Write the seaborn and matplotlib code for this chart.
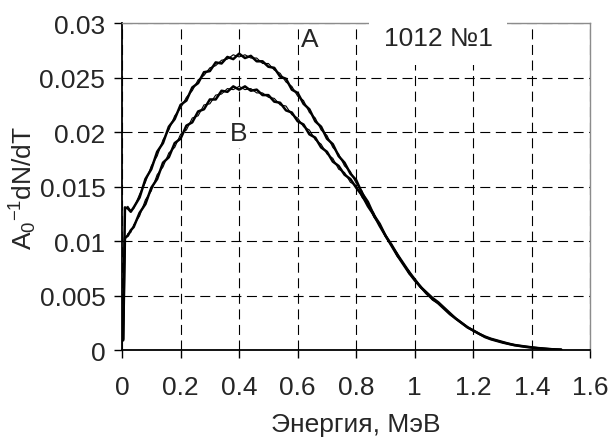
import numpy as np
import pandas as pd
import matplotlib
matplotlib.use('Agg')
import matplotlib.pyplot as plt
import seaborn as sns

# energy grid, MeV
energy = [
    0.004, 0.01, 0.02, 0.03, 0.04, 0.06, 0.08, 0.10, 0.12, 0.14,
    0.16, 0.18, 0.20, 0.22, 0.24, 0.26, 0.28, 0.30, 0.32, 0.34,
    0.36, 0.38, 0.40, 0.42, 0.44, 0.46, 0.48, 0.50, 0.52, 0.54,
    0.56, 0.58, 0.60, 0.62, 0.64, 0.66, 0.68, 0.70, 0.72, 0.74,
    0.76, 0.78, 0.80, 0.82, 0.84, 0.86, 0.88, 0.90, 0.92, 0.94,
    0.96, 0.98, 1.00, 1.02, 1.04, 1.06, 1.08, 1.10, 1.12, 1.14,
    1.16, 1.18, 1.20, 1.22, 1.24, 1.26, 1.28, 1.30, 1.32, 1.34,
    1.36, 1.38, 1.40, 1.42, 1.44, 1.46, 1.48, 1.50,
]

# spectra, units of 1e-3 (A: thick + thin run, B: thick + thin run)
a_thick = [
    1.0, 13.1, 13.0, 12.7, 13.1, 14.0, 15.7, 16.6, 18.2, 19.0,
    20.5, 21.2, 22.5, 22.9, 24.1, 24.5, 25.5, 25.6, 26.4, 26.3,
    26.9, 26.7, 27.2, 26.8, 27.0, 26.5, 26.5, 26.0, 25.9, 25.1,
    24.9, 23.9, 23.6, 22.6, 22.1, 21.0, 20.5, 19.4, 18.9, 17.8,
    17.2, 16.2, 15.6, 14.4, 13.6, 12.4, 11.6, 10.5, 9.7, 8.8,
    8.0, 7.2, 6.5, 5.8, 5.3, 4.8, 4.4, 3.9, 3.4, 2.9,
    2.5, 2.1, 1.8, 1.5, 1.25, 1.05, 0.9, 0.75, 0.6, 0.48,
    0.4, 0.33, 0.26, 0.2, 0.15, 0.1, 0.07, 0.05,
]
a_thin = [
    1.0, 12.9, 13.2, 12.8, 13.0, 14.3, 15.4, 16.9, 17.8, 19.3,
    20.2, 21.5, 22.2, 23.2, 23.8, 24.8, 25.2, 25.9, 26.1, 26.6,
    26.7, 27.1, 26.9, 27.1, 26.8, 26.8, 26.3, 26.3, 25.7, 25.4,
    24.6, 24.2, 23.3, 22.9, 21.8, 21.3, 20.2, 19.7, 18.6, 18.0,
    16.9, 16.4, 15.3, 14.6, 13.4, 12.6, 11.4, 10.6, 9.6, 8.9,
    7.9, 7.3, 6.4, 5.9, 5.2, 4.8, 4.3, 3.9, 3.4, 2.9,
    2.5, 2.1, 1.8, 1.5, 1.25, 1.05, 0.9, 0.75, 0.6, 0.48,
    0.4, 0.33, 0.26, 0.2, 0.15, 0.1, 0.07, 0.05,
]
b_thick = [
    0.9, 10.3, 10.5, 11.0, 11.3, 12.6, 13.4, 14.9, 15.7, 17.2,
    17.7, 19.0, 19.4, 20.6, 20.9, 21.9, 22.1, 23.0, 23.0, 23.8,
    23.7, 24.2, 23.9, 24.2, 23.8, 23.9, 23.4, 23.4, 22.8, 22.7,
    22.0, 21.8, 21.0, 20.7, 19.8, 19.5, 18.6, 18.2, 17.3, 16.9,
    16.1, 15.7, 14.9, 14.2, 13.2, 12.4, 11.4, 10.5, 9.6, 8.7,
    7.9, 7.1, 6.4, 5.8, 5.2, 4.7, 4.3, 3.8, 3.3, 2.9,
    2.5, 2.1, 1.8, 1.5, 1.2, 1.0, 0.85, 0.7, 0.58, 0.46,
    0.38, 0.3, 0.24, 0.18, 0.14, 0.1, 0.07, 0.05,
]
b_thin = [
    0.9, 10.1, 10.7, 10.8, 11.5, 12.3, 13.8, 14.6, 16.1, 16.8,
    18.1, 18.6, 19.8, 20.2, 21.3, 21.5, 22.5, 22.6, 23.4, 23.5,
    24.0, 23.9, 24.2, 23.9, 24.0, 23.6, 23.6, 23.2, 23.1, 22.5,
    22.4, 21.6, 21.3, 20.5, 20.2, 19.3, 18.9, 18.0, 17.6, 16.6,
    16.3, 15.4, 15.1, 14.0, 13.4, 12.2, 11.5, 10.4, 9.7, 8.6,
    8.0, 7.0, 6.5, 5.7, 5.3, 4.6, 4.3, 3.8, 3.3, 2.9,
    2.5, 2.1, 1.8, 1.5, 1.2, 1.0, 0.85, 0.7, 0.58, 0.46,
    0.38, 0.3, 0.24, 0.18, 0.14, 0.1, 0.07, 0.05,
]

x_ticks = [0, 0.2, 0.4, 0.6, 0.8, 1.0, 1.2, 1.4, 1.6]
x_labels = ['0', '0.2', '0.4', '0.6', '0.8', '1', '1.2', '1.4', '1.6']
y_ticks = [0, 0.005, 0.01, 0.015, 0.02, 0.025, 0.03]
y_labels = ['0', '0.005', '0.01', '0.015', '0.02', '0.025', '0.03']

df = pd.DataFrame({
    'E': energy,
    'a_thick': np.array(a_thick) / 1000,
    'a_thin': np.array(a_thin) / 1000,
    'b_thick': np.array(b_thick) / 1000,
    'b_thin': np.array(b_thin) / 1000,
})

sns.set_style('ticks')
plt.rcParams['font.family'] = ['Liberation Sans', 'DejaVu Sans']
plt.rcParams['mathtext.default'] = 'regular'
fs = 19

fig = plt.figure(figsize=(6.1, 4.39), dpi=100)
ax = fig.add_axes([0.2, 0.2, 0.768, 0.745])

for col, lw in [('a_thick', 1.8), ('a_thin', 0.8), ('b_thick', 1.8), ('b_thin', 0.8)]:
    sns.lineplot(data=df, x='E', y=col, ax=ax, color='black', lw=lw)

ax.set_xlim(0, 1.6)
ax.set_ylim(0, 0.03)
ax.set_xticks(x_ticks)
ax.set_xticklabels(x_labels, fontsize=fs)
ax.set_yticks(y_ticks)
ax.set_yticklabels(y_labels, fontsize=fs)
ax.tick_params(axis='both', direction='out', length=6, width=1, color='black', pad=6)
ax.tick_params(axis='x', pad=12)

ax.grid(True, color='black', lw=0.8, linestyle=(0, (9, 5)))
ax.set_axisbelow(True)

for side in ['top', 'right']:
    ax.spines[side].set_color('#8c8c8c')
    ax.spines[side].set_linewidth(1)
for side in ['left', 'bottom']:
    ax.spines[side].set_color('black')
    ax.spines[side].set_linewidth(1.3)

ax.set_xlabel('Энергия, МэВ', fontsize=fs, labelpad=9)
ax.set_ylabel('A$_0$$^{-1}$dN/dT', fontsize=fs, labelpad=0)

white = dict(facecolor='white', edgecolor='none', boxstyle='square,pad=0.1')
ax.text(0.642, 0.0285, 'A', fontsize=fs, ha='center', va='center', bbox=white, zorder=5)
ax.text(0.398, 0.0199, 'B', fontsize=fs, ha='center', va='center', bbox=white, zorder=5)
ax.text(1.08, 0.0286, '1012 №1', fontsize=fs, ha='center', va='center', zorder=5,
        clip_on=False,
        bbox=dict(facecolor='white', edgecolor='none', boxstyle='square,pad=0.55'))

fig.savefig('out.png', dpi=100)
